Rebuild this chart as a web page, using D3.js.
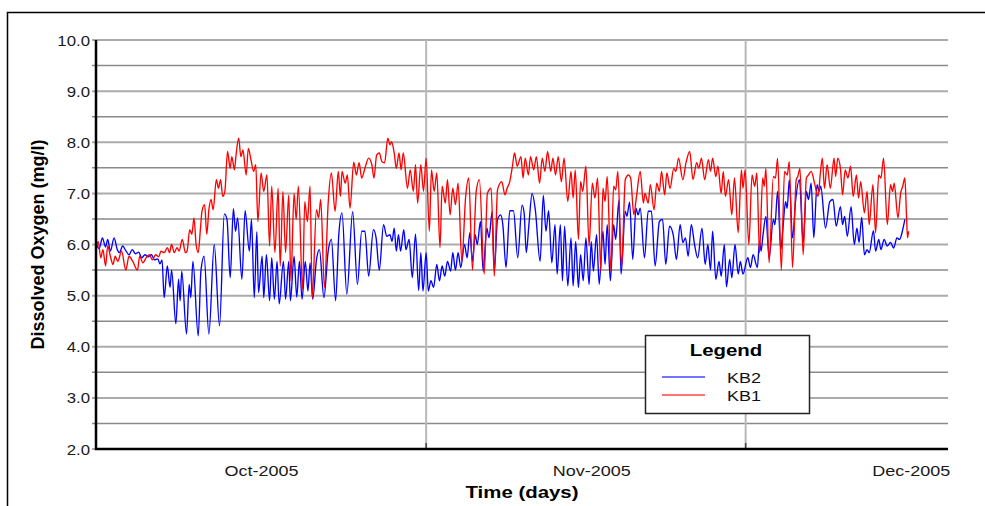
<!DOCTYPE html>
<html>
<head>
<meta charset="utf-8">
<script src="https://cdn.jsdelivr.net/npm/d3@7"></script>
<style>
  body { margin: 0; background: #fff; }
  svg { display: block; font-family: "Liberation Sans", Arial, sans-serif; }
</style>
</head>
<body>
<div id="chart"></div>
<script>
/* ---------------------------------------------------- +/

## Dissolved oxygen, KB1 / KB2 ##

Values are days since 1 Oct 2005 and mg/l

/+ ---------------------------------------------------- */

var startDate = "2005-10-01";
var endDate = "2005-12-20";
var monthLabels = ["2005-10-16T12:00", "2005-11-16T12:00", "2005-12-16T12:00"];
var monthLines = ["2005-11-01", "2005-12-01"];
var yMajor = [2, 3, 4, 5, 6, 7, 8, 9, 10];
var seriesNames = ["KB2", "KB1"];

var kb2 = [[0.0,6.02],[0.3,5.92],[0.6,6.13],[0.9,5.95],[1.1,6.1],[1.35,5.87],[1.7,6.13],[2.0,5.9],[2.2,5.84],[2.5,5.97],[2.8,5.88],[3.1,5.8],[3.4,5.9],[3.7,5.82],[4.0,5.85],[4.3,5.74],[4.6,5.8],[4.9,5.76],[5.2,5.8],[5.5,5.7],[5.8,5.72],[6.0,5.62],[6.2,5.7],[6.4,4.96],[6.7,5.58],[6.95,5.16],[7.1,5.5],[7.5,4.45],[7.75,5.32],[7.9,4.9],[8.05,5.48],[8.5,4.25],[8.75,5.22],[8.9,4.96],[9.1,5.67],[9.6,4.21],[9.85,5.48],[10.15,5.77],[10.6,4.25],[11.1,6.0],[11.6,4.41],[12.05,6.6],[12.3,6.49],[12.6,5.35],[12.9,6.7],[13.1,6.26],[13.3,6.52],[13.7,5.32],[14.0,6.66],[14.4,5.87],[14.6,6.49],[14.86,4.96],[15.1,6.25],[15.26,5.06],[15.6,5.77],[15.75,4.96],[16.0,5.8],[16.3,4.9],[16.5,5.74],[16.75,4.93],[17.0,5.67],[17.2,4.84],[17.6,5.67],[17.8,4.93],[18.1,5.67],[18.25,4.9],[18.6,5.77],[18.85,4.97],[19.1,5.67],[19.35,4.93],[19.65,5.67],[19.9,5.09],[20.1,5.64],[20.35,4.93],[20.7,5.7],[20.98,5.9],[21.4,4.96],[21.8,5.87],[22.1,6.1],[22.5,4.9],[22.8,6.2],[23.1,6.62],[23.55,5.03],[24.1,6.64],[24.55,5.22],[24.95,6.26],[25.25,6.26],[25.6,5.38],[26.05,6.29],[26.3,6.13],[26.6,5.5],[27.0,6.39],[27.3,6.16],[27.6,6.19],[27.8,6.06],[28.0,6.32],[28.2,5.87],[28.4,6.19],[28.6,5.87],[28.9,6.29],[29.1,5.9],[29.4,6.1],[29.7,5.35],[30.0,6.2],[30.3,5.1],[30.5,5.84],[30.7,5.09],[31.0,5.84],[31.2,5.09],[31.45,5.29],[31.7,5.16],[32.0,5.61],[32.25,5.29],[32.5,5.58],[32.75,5.38],[33.0,5.67],[33.3,5.48],[33.5,5.84],[33.75,5.5],[34.0,5.84],[34.25,5.55],[34.6,6.0],[34.85,5.74],[35.1,6.23],[35.35,5.67],[35.6,6.19],[35.8,6.0],[36.1,6.45],[36.35,5.48],[36.7,6.32],[36.9,6.13],[37.2,6.64],[37.4,5.48],[37.7,6.49],[38.0,6.58],[38.2,6.39],[38.5,5.55],[38.85,6.66],[39.2,6.66],[39.6,5.74],[40.0,6.77],[40.2,6.62],[40.4,5.84],[40.65,6.39],[40.95,7.0],[41.25,6.68],[41.7,5.67],[42.0,6.96],[42.25,6.26],[42.5,6.66],[42.8,5.64],[43.1,6.39],[43.3,5.42],[43.6,6.39],[43.8,5.29],[44.0,6.36],[44.3,5.19],[44.6,6.13],[44.8,5.19],[45.04,6.06],[45.3,5.16],[45.5,5.8],[45.75,5.29],[46.0,6.13],[46.3,5.22],[46.5,6.06],[46.7,5.48],[47.0,6.19],[47.25,5.22],[47.6,6.26],[47.8,5.61],[48.0,6.39],[48.3,5.29],[48.6,6.39],[48.8,6.1],[49.1,6.86],[49.3,5.42],[49.7,6.65],[49.85,6.55],[50.1,6.83],[50.4,5.71],[50.7,6.71],[50.9,6.58],[51.1,6.71],[51.5,5.74],[51.85,6.65],[52.15,6.65],[52.5,5.58],[52.9,6.45],[53.2,6.49],[53.5,5.61],[53.85,6.36],[54.2,6.19],[54.5,5.71],[54.85,6.39],[55.1,6.04],[55.35,6.13],[55.6,5.77],[55.9,6.39],[56.2,6.0],[56.5,5.74],[56.9,6.32],[57.2,5.61],[57.45,6.0],[57.7,5.5],[57.9,6.26],[58.2,5.32],[58.5,5.67],[58.7,5.38],[59.0,6.0],[59.2,5.17],[59.5,5.71],[59.7,5.35],[60.0,6.0],[60.3,5.42],[60.5,5.67],[60.75,5.42],[61.2,5.74],[61.45,5.55],[61.7,5.8],[62.1,5.55],[62.3,6.06],[62.45,5.87],[62.6,6.13],[62.9,6.55],[63.2,5.74],[63.6,6.49],[63.75,6.39],[64.0,7.04],[64.3,5.9],[64.5,6.32],[64.75,6.84],[64.9,6.71],[65.1,7.27],[65.4,6.13],[65.7,6.88],[66.05,7.27],[66.4,6.04],[66.7,7.04],[66.9,6.88],[67.15,7.2],[67.4,6.13],[67.7,7.17],[67.9,7.04],[68.05,7.14],[68.5,6.32],[68.9,6.84],[69.2,6.88],[69.5,6.36],[69.9,6.74],[70.1,6.39],[70.3,6.55],[70.55,6.16],[70.9,6.74],[71.2,6.0],[71.45,6.32],[71.65,6.04],[71.9,6.53],[72.15,5.8],[72.4,5.9],[72.6,5.84],[73.0,6.27],[73.2,5.87],[73.5,6.1],[73.7,5.9],[74.0,6.1],[74.3,5.97],[74.6,6.04],[74.9,5.93],[75.2,6.13],[75.45,6.1],[75.75,6.29],[75.95,6.49]];

var kb1 = [[0.0,5.9],[0.2,6.06],[0.45,5.74],[0.65,5.9],[0.9,5.58],[1.1,5.97],[1.35,5.77],[1.6,5.61],[1.8,5.77],[2.05,5.67],[2.4,5.87],[2.8,5.5],[3.1,5.77],[3.45,5.67],[3.9,5.5],[4.1,5.77],[4.4,5.64],[4.7,5.74],[5.0,5.8],[5.3,5.7],[5.6,5.8],[5.9,5.76],[6.1,5.87],[6.4,5.84],[6.7,5.94],[6.9,5.84],[7.1,6.0],[7.35,5.84],[7.6,5.94],[7.8,5.87],[8.1,6.1],[8.4,5.84],[8.55,5.87],[8.8,6.29],[9.0,6.2],[9.2,6.52],[9.4,6.0],[9.6,5.84],[9.8,6.29],[9.95,6.65],[10.2,6.78],[10.4,6.2],[10.6,6.68],[10.8,6.88],[11.0,6.68],[11.3,7.27],[11.5,7.1],[11.7,7.27],[11.9,6.94],[12.1,7.04],[12.35,7.82],[12.6,7.49],[12.75,7.72],[13.0,7.46],[13.15,7.75],[13.4,8.08],[13.6,7.72],[13.8,7.85],[14.1,7.36],[14.3,7.88],[14.55,7.66],[14.8,7.43],[15.0,7.56],[15.2,6.45],[15.5,7.4],[15.75,7.04],[16.05,7.36],[16.3,5.97],[16.5,7.14],[16.8,5.84],[17.1,7.1],[17.3,5.58],[17.55,7.04],[17.8,5.84],[18.1,6.97],[18.3,5.29],[18.6,7.0],[18.8,6.49],[19.0,7.14],[19.4,5.12],[19.6,6.84],[19.85,6.45],[20.1,7.14],[20.3,4.96],[20.7,6.68],[20.9,6.52],[21.1,6.88],[21.45,5.16],[21.8,6.81],[22.1,7.4],[22.45,6.65],[22.75,7.43],[22.95,6.94],[23.1,7.43],[23.4,7.2],[23.6,7.36],[23.85,6.71],[24.2,7.61],[24.45,7.36],[24.7,7.6],[24.95,7.3],[25.25,7.49],[25.6,7.69],[25.9,7.56],[26.1,7.3],[26.35,7.75],[26.6,7.79],[26.85,7.62],[27.1,7.6],[27.4,8.08],[27.6,7.95],[27.75,8.01],[28.0,7.79],[28.2,7.49],[28.45,7.79],[28.65,7.46],[28.85,7.79],[29.25,7.1],[29.5,7.46],[29.8,7.04],[30.0,7.56],[30.2,6.81],[30.5,7.56],[30.75,7.04],[31.0,7.69],[31.3,6.26],[31.5,7.46],[31.75,7.04],[32.0,7.4],[32.3,5.94],[32.5,7.14],[32.8,6.81],[33.0,7.27],[33.25,6.58],[33.5,7.1],[33.75,6.78],[34.0,7.2],[34.35,5.67],[34.7,6.91],[35.0,7.3],[35.35,5.5],[35.7,7.04],[36.0,7.27],[36.45,5.42],[36.75,7.0],[37.1,7.1],[37.4,5.38],[37.7,7.07],[38.1,7.23],[38.4,6.97],[38.6,7.1],[38.85,7.23],[39.1,7.53],[39.3,7.79],[39.55,7.53],[39.9,7.72],[40.1,7.3],[40.3,7.69],[40.6,7.36],[40.8,7.72],[41.1,7.46],[41.35,7.72],[41.65,7.2],[41.9,7.69],[42.15,7.43],[42.4,7.82],[42.7,7.43],[42.9,7.69],[43.15,7.36],[43.4,7.72],[43.7,7.23],[43.95,7.69],[44.3,6.84],[44.6,7.43],[44.8,6.91],[45.0,7.46],[45.3,6.1],[45.5,7.23],[45.7,7.04],[46.0,7.53],[46.3,5.97],[46.6,7.2],[46.85,6.91],[47.1,7.3],[47.4,5.48],[47.6,7.1],[47.8,6.84],[48.0,7.33],[48.35,5.48],[48.6,7.14],[48.8,7.07],[49.0,7.43],[49.35,5.55],[49.7,7.27],[50.0,7.36],[50.2,7.3],[50.5,6.58],[50.75,6.94],[51.1,7.43],[51.4,6.81],[51.55,7.0],[51.85,6.81],[52.05,7.17],[52.4,6.68],[52.65,7.2],[52.9,7.04],[53.1,7.43],[53.4,6.97],[53.6,7.4],[53.9,7.1],[54.25,7.49],[54.45,7.43],[54.7,7.69],[55.1,7.27],[55.4,7.6],[55.75,7.82],[56.05,7.27],[56.4,7.6],[56.6,7.49],[56.85,7.69],[57.15,7.27],[57.5,7.66],[57.7,7.43],[57.9,7.69],[58.2,7.33],[58.4,7.53],[58.7,7.0],[58.9,7.43],[59.1,6.94],[59.4,7.27],[59.7,6.58],[59.95,7.3],[60.3,6.23],[60.6,7.46],[60.75,7.1],[60.95,7.46],[61.3,6.0],[61.6,7.36],[61.85,7.14],[62.05,7.4],[62.3,5.84],[62.6,7.3],[62.75,7.14],[62.9,7.49],[63.2,5.64],[63.6,7.33],[63.8,7.3],[64.0,7.69],[64.35,5.5],[64.65,7.43],[64.9,7.36],[65.1,7.62],[65.4,5.55],[65.75,7.27],[65.9,7.33],[66.1,7.49],[66.4,5.8],[66.7,7.3],[66.9,7.36],[67.15,7.43],[67.5,7.17],[67.8,6.94],[68.0,7.36],[68.2,7.69],[68.4,7.1],[68.65,7.56],[68.95,7.1],[69.3,7.69],[69.45,7.33],[69.65,7.69],[69.9,7.49],[70.1,6.97],[70.35,7.46],[70.6,7.3],[70.85,7.53],[71.1,6.94],[71.4,7.36],[71.6,6.91],[71.8,7.23],[72.15,6.62],[72.4,7.04],[72.6,6.39],[72.95,7.17],[73.2,6.23],[73.5,7.36],[73.7,7.3],[73.95,7.69],[74.3,6.39],[74.6,7.17],[74.8,7.04],[74.95,7.2],[75.3,6.52],[75.55,7.0],[75.75,7.14],[75.95,7.3],[76.1,6.58],[76.2,6.13],[76.3,6.26]];

var seriesColors = ["#0000ff", "#ff0000"];
var legendColors = ["#7373ff", "#ff7373"];

/**
 * Setup drawing area
 */
var width = 985;
var height = 506;
var margin = { top: 40, right: 37, bottom: 57, left: 96 };
var SX = 1.2; // the reference is stretched sideways, text too

var svg = d3.select("#chart").append("svg")
    .attr("width", width)
    .attr("height", height);

var parseDay = d3.utcParse("%Y-%m-%d");
var parseHour = d3.utcParse("%Y-%m-%dT%H:%M");
var t0 = parseDay(startDate);

var x = d3.scaleUtc()
    .domain([t0, parseDay(endDate)])
    .range([margin.left, width - margin.right]);

var y = d3.scaleLinear()
    .domain([d3.min(yMajor), d3.max(yMajor)])
    .range([height - margin.bottom, margin.top]);

function dayToDate(d) {
    return new Date(t0.getTime() + d * 864e5);
}

// Text drawn with the same sideways stretch as the picture
function addText(g, px, py, str) {
    return g.append("text")
        .attr("transform", "translate(" + px + "," + py + ") scale(" + SX + ",1)")
        .text(str);
}

// Outer frame (runs off the page right and bottom)
svg.append("path")
    .attr("d", "M7.5," + height + "V12.5H" + width)
    .attr("fill", "none")
    .attr("stroke", "#000")
    .attr("stroke-width", 1.5);

/**
 * Grid
 */
var grid = svg.append("g").attr("class", "grid");
var yGrid = y.ticks((y.domain()[1] - y.domain()[0]) * 2);

grid.selectAll("line.h")
    .data(yGrid)
    .enter().append("line")
    .attr("class", "h")
    .attr("x1", x.range()[0] - 4)
    .attr("x2", x.range()[1])
    .attr("y1", function (d) { return y(d); })
    .attr("y2", function (d) { return y(d); })
    .attr("stroke", function (d) { return d % 1 === 0 ? "#ababab" : "#8a8a8a"; })
    .attr("stroke-width", function (d) { return d % 1 === 0 ? 2 : 1.6; });

grid.selectAll("line.v")
    .data(monthLines.map(parseDay))
    .enter().append("line")
    .attr("class", "v")
    .attr("x1", function (d) { return x(d); })
    .attr("x2", function (d) { return x(d); })
    .attr("y1", y.range()[1])
    .attr("y2", y.range()[0])
    .attr("stroke", "#b8b8b8")
    .attr("stroke-width", 2);

// small dark ticks on the time axis at each month start
grid.selectAll("line.vt")
    .data(monthLines.map(parseDay))
    .enter().append("line")
    .attr("class", "vt")
    .attr("x1", function (d) { return x(d); })
    .attr("x2", function (d) { return x(d); })
    .attr("y1", y.range()[0] - 6)
    .attr("y2", y.range()[0])
    .attr("stroke", "#444")
    .attr("stroke-width", 1.5);

/**
 * Series lines
 */
var line = d3.line()
    .curve(d3.curveMonotoneX)
    .x(function (d) { return x(dayToDate(d[0])); })
    .y(function (d) { return y(d[1]); });

var series = [kb2, kb1];
svg.append("g").attr("class", "series")
    .selectAll("path")
    .data(series)
    .enter().append("path")
    .attr("d", line)
    .attr("fill", "none")
    .attr("stroke", function (d, i) { return seriesColors[i]; })
    .attr("stroke-width", 1.35)
    .attr("stroke-linejoin", "round");

/**
 * Axes
 */
var yAxis = svg.append("g")
    .attr("transform", "translate(" + x.range()[0] + ",0)")
    .call(d3.axisLeft(y).tickValues(yMajor).tickFormat(d3.format(".1f")).tickSize(0).tickPadding(0));
yAxis.select(".domain").remove();
yAxis.selectAll("text")
    .attr("x", null)
    .attr("dy", null)
    .attr("transform", "translate(-6,5) scale(" + SX + ",1)")
    .attr("fill", "#1a1a1a")
    .style("font-size", "14px");

var xAxis = svg.append("g")
    .attr("transform", "translate(0," + y.range()[0] + ")")
    .call(d3.axisBottom(x).tickValues(monthLabels.map(parseHour)).tickFormat(d3.utcFormat("%b-%Y")).tickSize(0).tickPadding(0));
xAxis.select(".domain").remove();
xAxis.selectAll("text")
    .attr("y", null)
    .attr("dy", null)
    .attr("transform", "translate(0,27) scale(" + SX + ",1)")
    .attr("fill", "#1a1a1a")
    .style("font-size", "15px");

// heavy black axis lines
svg.append("path")
    .attr("d", "M" + x.range()[0] + "," + y.range()[1] + "V" + y.range()[0] + "H" + x.range()[1])
    .attr("fill", "none")
    .attr("stroke", "#000")
    .attr("stroke-width", 2.5);

// Axis titles
addText(svg, (x.range()[0] + x.range()[1]) / 2, 498, "Time (days)")
    .attr("text-anchor", "middle")
    .style("font-size", "17px")
    .style("font-weight", "bold");

svg.append("text")
    .attr("transform", "translate(44," + (y.range()[0] + y.range()[1]) / 2 + ") rotate(-90)")
    .attr("text-anchor", "middle")
    .style("font-size", "18px")
    .style("font-weight", "bold")
    .text("Dissolved Oxygen (mg/l)");

/**
 * Legend
 */
var legend = svg.append("g").attr("class", "legend");
legend.append("rect")
    .attr("x", 645.5)
    .attr("y", 335.5)
    .attr("width", 164)
    .attr("height", 78)
    .attr("fill", "#fff")
    .attr("stroke", "#222")
    .attr("stroke-width", 1.5);

addText(legend, 726, 356, "Legend")
    .attr("text-anchor", "middle")
    .style("font-size", "17px")
    .style("font-weight", "bold");

seriesNames.forEach(function (name, i) {
    var ly = 377 + i * 18;
    legend.append("line")
        .attr("x1", 662)
        .attr("x2", 705)
        .attr("y1", ly)
        .attr("y2", ly)
        .attr("stroke", legendColors[i])
        .attr("stroke-width", 2);
    addText(legend, 727, ly + 5.5, name)
        .style("font-size", "15px")
        .attr("fill", "#111");
});
</script>
</body>
</html>
